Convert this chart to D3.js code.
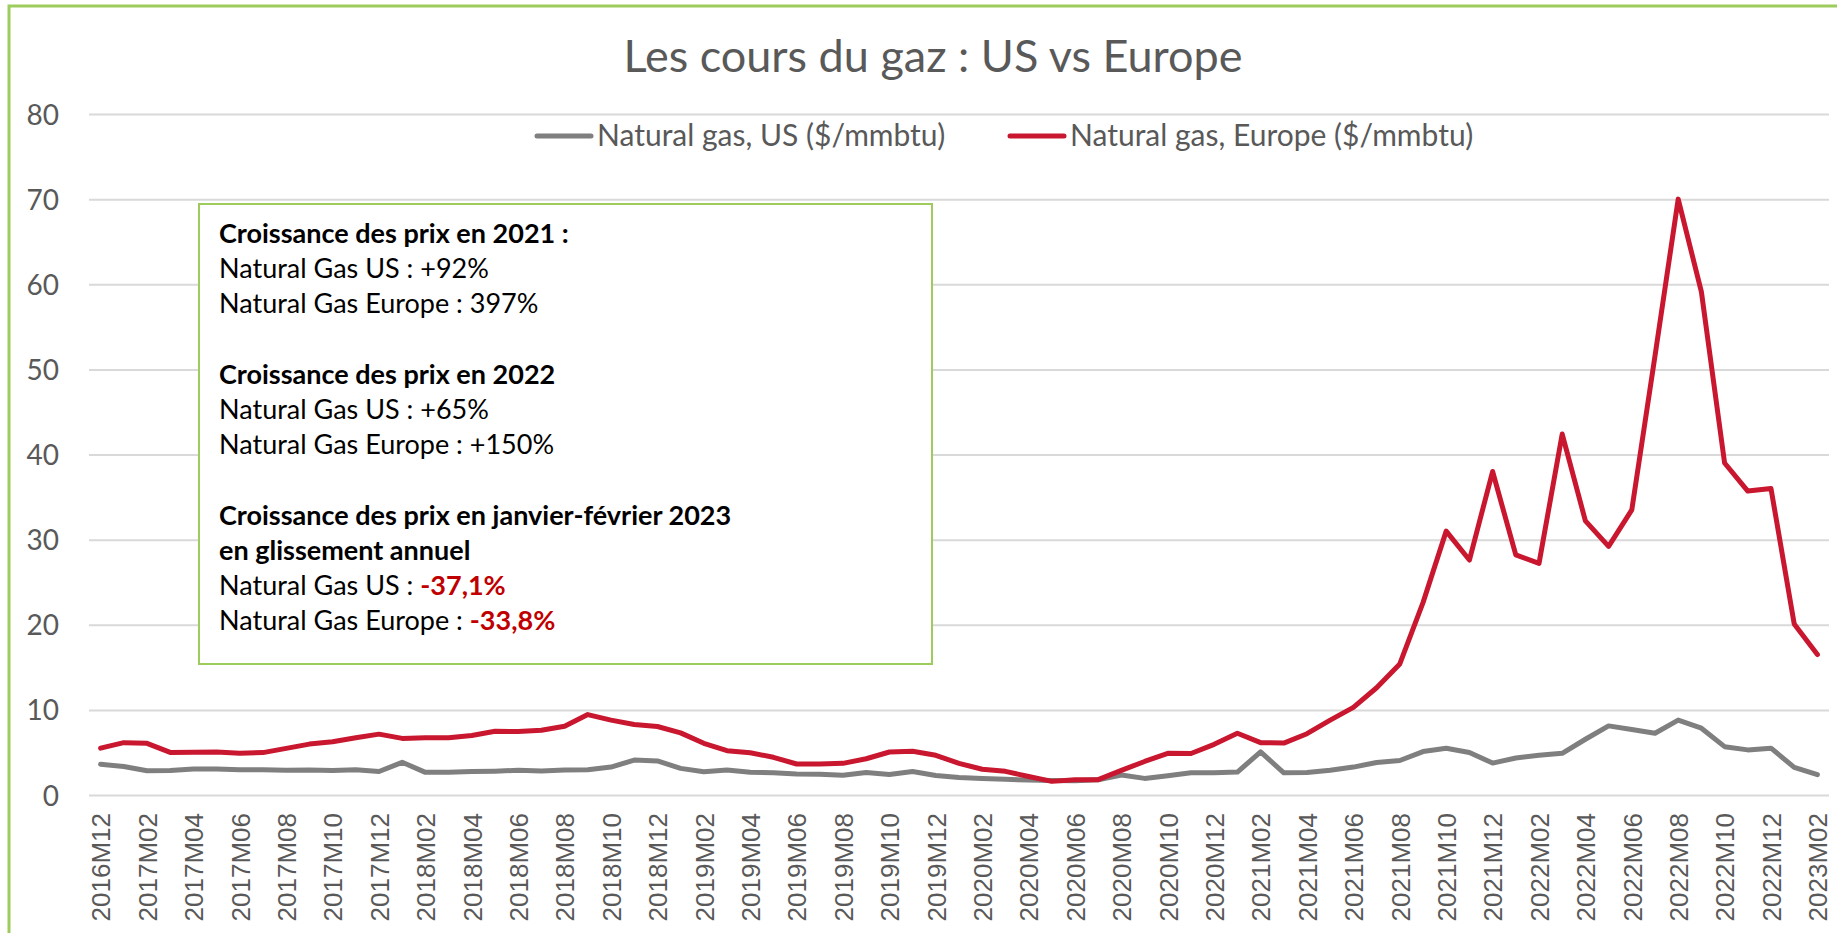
<!DOCTYPE html>
<html>
<head>
<meta charset="utf-8">
<script src="https://cdn.jsdelivr.net/npm/d3@7"></script>
<style>
  body { margin: 0; background: #fff; }
  svg { display: block; }
</style>
</head>
<body>
<script>
// categories (monthly)
const months = [
  "2016M12",
  "2017M01","2017M02","2017M03","2017M04","2017M05","2017M06","2017M07","2017M08","2017M09","2017M10","2017M11","2017M12",
  "2018M01","2018M02","2018M03","2018M04","2018M05","2018M06","2018M07","2018M08","2018M09","2018M10","2018M11","2018M12",
  "2019M01","2019M02","2019M03","2019M04","2019M05","2019M06","2019M07","2019M08","2019M09","2019M10","2019M11","2019M12",
  "2020M01","2020M02","2020M03","2020M04","2020M05","2020M06","2020M07","2020M08","2020M09","2020M10","2020M11","2020M12",
  "2021M01","2021M02","2021M03","2021M04","2021M05","2021M06","2021M07","2021M08","2021M09","2021M10","2021M11","2021M12",
  "2022M01","2022M02","2022M03","2022M04","2022M05","2022M06","2022M07","2022M08","2022M09","2022M10","2022M11","2022M12",
  "2023M01","2023M02"
];

// Natural gas, US ($/mmbtu)
const usValues = [
  3.60,
  3.34, 2.84, 2.88, 3.05, 3.05, 2.96, 2.96, 2.92, 2.95, 2.88, 2.96, 2.76,
  3.84, 2.66, 2.68, 2.75, 2.80, 2.90, 2.82, 2.93, 2.97, 3.28, 4.10, 4.00,
  3.13, 2.74, 2.94, 2.66, 2.62, 2.47, 2.43, 2.31, 2.65, 2.40, 2.75, 2.30,
  2.05, 1.95, 1.84, 1.76, 1.70, 1.68, 1.78, 2.35, 1.95, 2.27, 2.62, 2.60,
  2.70, 5.06, 2.60, 2.64, 2.90, 3.28, 3.82, 4.05, 5.10, 5.50, 5.00, 3.75,
  4.35, 4.68, 4.90, 6.55, 8.12, 7.70, 7.25, 8.80, 7.85, 5.68, 5.30, 5.50,
  3.25, 2.38
];

// Natural gas, Europe ($/mmbtu)
const europeValues = [
  5.50,
  6.15, 6.07, 5.00, 5.02, 5.05, 4.90, 4.98, 5.48, 5.98, 6.25, 6.72, 7.15,
  6.65, 6.73, 6.72, 6.98, 7.48, 7.45, 7.60, 8.08, 9.45, 8.80, 8.28, 8.05,
  7.30, 6.07, 5.20, 4.97, 4.43, 3.64, 3.65, 3.72, 4.26, 5.05, 5.13, 4.66,
  3.72, 3.02, 2.78, 2.17, 1.60, 1.78, 1.80, 2.89, 3.94, 4.90, 4.88, 5.95,
  7.25, 6.15, 6.10, 7.20, 8.80, 10.30, 12.60, 15.40, 22.60, 31.00, 27.60, 38.00,
  28.20, 27.20, 42.40, 32.20, 29.20, 33.50, 51.60, 70.00, 59.10, 39.00, 35.70, 36.00,
  20.10, 16.50
];

const yTicks = [0, 10, 20, 30, 40, 50, 60, 70, 80];
const xTickLabels = months.filter((m, i) => i % 2 === 0);

const seriesNames = ["Natural gas, US ($/mmbtu)", "Natural gas, Europe ($/mmbtu)"];
const seriesColours = ["#7f7f7f", "#c8172f"];

// annotation box text, one entry per line: [normal part, highlighted part, bold line?]
const boxLines = [
  ["Croissance des prix en 2021 :", "", true],
  ["Natural Gas US : +92%", "", false],
  ["Natural Gas Europe : 397%", "", false],
  ["", "", false],
  ["Croissance des prix en 2022", "", true],
  ["Natural Gas US : +65%", "", false],
  ["Natural Gas Europe : +150%", "", false],
  ["", "", false],
  ["Croissance des prix en janvier-février 2023", "", true],
  ["en glissement annuel", "", true],
  ["Natural Gas US : ", "-37,1%", false],
  ["Natural Gas Europe : ", "-33,8%", false]
];

const width = 1837, height = 933;
const plot = {left: 89, right: 1829, top: 114, bottom: 795};
const textGrey = "#595959";
const calibri = "Lato, 'Open Sans', sans-serif";

const svg = d3.select("body").append("svg")
  .attr("width", width)
  .attr("height", height);

svg.append("rect")
  .attr("width", width).attr("height", height)
  .attr("fill", "#fff");

// chart area border (green)
svg.append("rect")
  .attr("x", 9).attr("y", 6)
  .attr("width", width + 20).attr("height", height + 20)
  .attr("fill", "none")
  .attr("stroke", "#9dcb5c")
  .attr("stroke-width", 3);

const x = d3.scalePoint()
  .domain(months)
  .range([plot.left, plot.right])
  .padding(0.5);

const y = d3.scaleLinear()
  .domain([0, 80])
  .range([plot.bottom, plot.top]);

// y axis + gridlines
const yAxis = svg.append("g")
  .attr("transform", "translate(" + plot.left + ",0)")
  .call(d3.axisLeft(y).tickValues(yTicks).tickSize(-(plot.right - plot.left)).tickPadding(30));

yAxis.select(".domain").remove();
yAxis.selectAll(".tick line")
  .attr("stroke", "#d9d9d9")
  .attr("stroke-width", 2);
yAxis.selectAll(".tick text")
  .attr("fill", textGrey)
  .attr("font-family", calibri)
  .attr("font-size", 28)
  .attr("dy", "0.36em");

// x axis labels
const xAxis = svg.append("g")
  .attr("transform", "translate(0," + plot.bottom + ")")
  .call(d3.axisBottom(x).tickValues(xTickLabels).tickSize(0));

xAxis.select(".domain").remove();
xAxis.selectAll(".tick text")
  .attr("fill", textGrey)
  .attr("font-family", "'Liberation Sans', Arial, sans-serif")
  .attr("font-size", 26)
  .attr("text-anchor", "end")
  .attr("transform", "rotate(-90)")
  .attr("x", -18)
  .attr("y", 0)
  .attr("dy", "0.36em");

// lines
const line = d3.line()
  .x((d, i) => x(months[i]))
  .y(d => y(d));

[usValues, europeValues].forEach(function(values, k) {
  svg.append("path")
    .datum(values)
    .attr("d", line)
    .attr("fill", "none")
    .attr("stroke", seriesColours[k])
    .attr("stroke-width", 5)
    .attr("stroke-linejoin", "round")
    .attr("stroke-linecap", "round");
});

// title
svg.append("text")
  .attr("x", 933).attr("y", 72)
  .attr("text-anchor", "middle")
  .attr("fill", textGrey)
  .attr("font-family", calibri)
  .attr("font-size", 45)
  .text("Les cours du gaz : US vs Europe");

// legend
const legendX = [537, 1010];
const legend = svg.append("g");
seriesNames.forEach(function(name, k) {
  legend.append("line")
    .attr("x1", legendX[k]).attr("x2", legendX[k] + 54)
    .attr("y1", 136).attr("y2", 136)
    .attr("stroke", seriesColours[k])
    .attr("stroke-width", 5)
    .attr("stroke-linecap", "round");
  legend.append("text")
    .attr("x", legendX[k] + 60).attr("y", 146)
    .attr("fill", textGrey)
    .attr("font-family", calibri)
    .attr("font-size", 30)
    .text(name);
});

// annotation box
const box = svg.append("g");
box.append("rect")
  .attr("x", 199).attr("y", 204)
  .attr("width", 733).attr("height", 460)
  .attr("fill", "#fff")
  .attr("stroke", "#9dcb5c")
  .attr("stroke-width", 2);

boxLines.forEach(function(l, i) {
  const t = box.append("text")
    .attr("x", 219)
    .attr("y", 243 + i * 35.2)
    .attr("fill", "#000")
    .attr("font-family", calibri)
    .attr("font-size", 27)
    .attr("font-weight", l[2] ? "bold" : "normal");
  t.append("tspan").text(l[0]);
  if (l[1]) {
    t.append("tspan")
      .attr("fill", "#c00000")
      .attr("font-weight", "bold")
      .text(l[1]);
  }
});
</script>
</body>
</html>
